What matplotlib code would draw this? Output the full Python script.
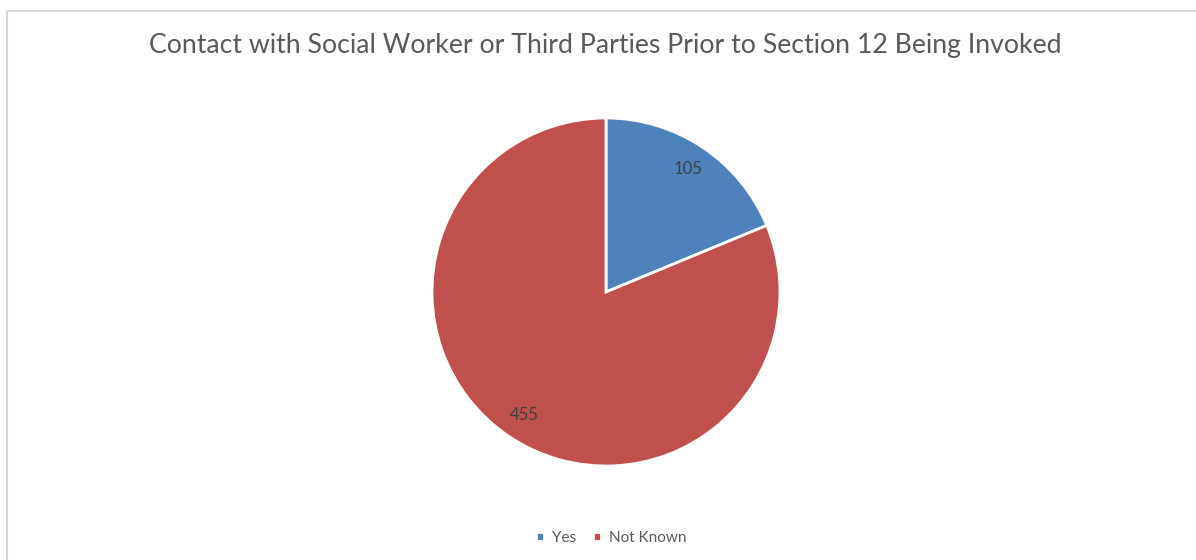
import matplotlib
matplotlib.use("Agg")

import matplotlib.pyplot as plt
from matplotlib.patches import Rectangle

# Datos del gráfico
categorias = ["Yes", "Not Known"]
valores = [105, 455]
colores = ["#4F81BD", "#C0504D"]

titulo = "Contact with Social Worker or Third Parties Prior to Section 12 Being Invoked"

plt.rcParams["font.family"] = ["Lato", "DejaVu Sans"]

fig = plt.figure(figsize=(11.96, 5.6), dpi=100)

# Marco gris claro del área del gráfico
fig.patches.append(Rectangle(
    (7 / 1196, -0.01), 1.02, 1 - 11 / 560 + 0.01,
    transform=fig.transFigure, fill=False,
    edgecolor="#D9D9D9", linewidth=1.5
))

fig.text(0.5065, 1 - 46 / 560, titulo, ha="center", va="center",
         fontsize=19.2, color="#595959")

# Ejes cuadrados para el pastel
radio = 174
cx, cy = 606, 292
ax = fig.add_axes([
    (cx - radio) / 1196, 1 - (cy + radio) / 560,
    2 * radio / 1196, 2 * radio / 560
])

cuñas, textos, autotextos = ax.pie(
    valores,
    colors=colores,
    startangle=90,
    counterclock=False,
    autopct=lambda p: f"{round(p * sum(valores) / 100):d}",
    pctdistance=0.85,
    wedgeprops={"edgecolor": "white", "linewidth": 2},
    textprops={"fontsize": 12, "color": "#404040"}
)
ax.set_aspect("equal")
ax.set_xlim(-1, 1)
ax.set_ylim(-1, 1)

# Leyenda inferior
fig.legend(
    cuñas, categorias,
    loc="center", bbox_to_anchor=(611 / 1196, 1 - 538 / 560),
    ncol=2, frameon=False, fontsize=11,
    handlelength=0.55, handleheight=0.55, handletextpad=0.5,
    columnspacing=1.1, labelcolor="#595959"
)

plt.savefig("out.png", dpi=100)
plt.close()
